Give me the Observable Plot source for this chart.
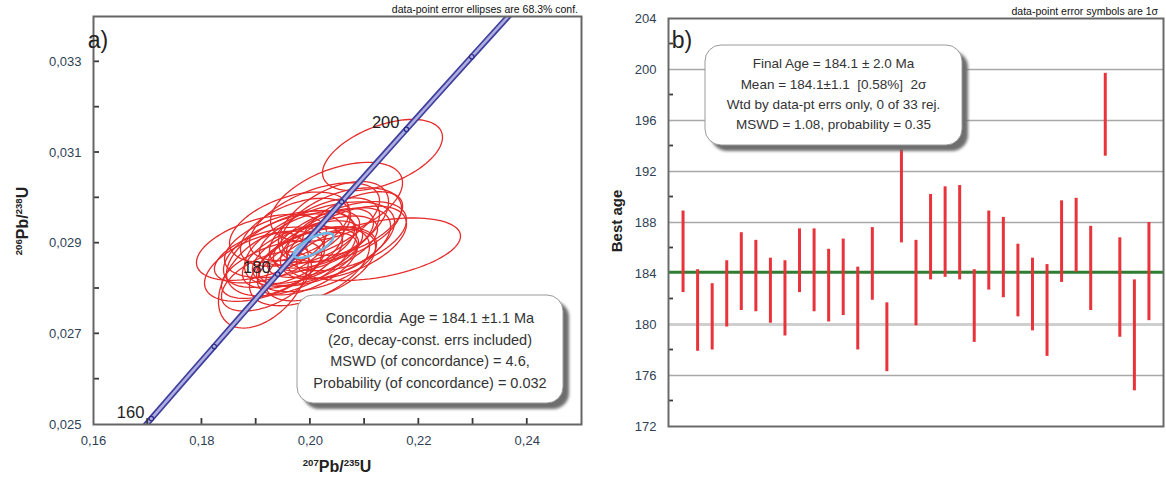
<!DOCTYPE html>
<html><head><meta charset="utf-8">
<script src="https://cdn.jsdelivr.net/npm/d3@7"></script>
<script src="https://cdn.jsdelivr.net/npm/@observablehq/plot@0.6"></script>
<style>
body{margin:0;background:#fff;}
#wrap{display:flex;width:1166px;height:482px;overflow:hidden;}
svg text{font-family:"Liberation Sans",Arial,sans-serif;}
</style></head><body><div id="wrap"></div>
<script>
// ---------- Panel a) data: concordia knots (age Ma, 207Pb/235U, 206Pb/238U) ----------
const concAge = [155,160,165,170,175,180,185,190,195,200,205,210,215,220];
const concX   = [0.16492,0.17067,0.17645,0.18226,0.18809,0.19396,0.19985,0.20577,0.21173,0.21771,0.22372,0.22976,0.23583,0.24193];
const concY   = [0.024335,0.025131,0.025927,0.026722,0.027518,0.028317,0.029114,0.029912,0.030712,0.031511,0.032312,0.033113,0.033914,0.034717];
const concTickAges = [160,170,180,190,200,210];
const concLabelAges = [160,180,200];

// data-point ratios (1 sigma) and error correlations
const r207 = [0.20260,0.19154,0.19283,0.19965,0.19615,0.20223,0.19246,0.20113,0.19984,0.20463,0.19947,0.19098,0.20187,0.20242,0.19191,0.20482,0.19504,0.20574,0.20076,0.20426,0.19947,0.19726,0.20666,0.21256,0.19670,0.19984,0.19615,0.20777,0.20666,0.21330,0.19652,0.19135,0.20168];
const s207 = [0.00670,0.00730,0.00609,0.00609,0.00791,0.00670,0.00670,0.00730,0.00609,0.00670,0.00670,0.00791,0.00670,0.00609,0.00548,0.00803,0.00730,0.00730,0.00791,0.00670,0.00609,0.00670,0.00730,0.00998,0.00609,0.00730,0.00730,0.00609,0.00730,0.00730,0.00791,0.00548,0.00913];
const r206 = [0.029225,0.028491,0.028411,0.028699,0.028978,0.028922,0.028739,0.028643,0.029114,0.028994,0.028802,0.028906,0.028515,0.029074,0.028156,0.029912,0.028834,0.029409,0.029473,0.029465,0.028547,0.029241,0.029154,0.028866,0.028691,0.028491,0.029353,0.029433,0.029018,0.030943,0.028778,0.028180,0.028978];
const s206 = [0.000511,0.000511,0.000415,0.000415,0.000487,0.000447,0.000407,0.000471,0.000399,0.000519,0.000455,0.000479,0.000519,0.000455,0.000431,0.000575,0.000535,0.000535,0.000567,0.000591,0.000455,0.000495,0.000503,0.000455,0.000455,0.000575,0.000511,0.000463,0.000527,0.000519,0.000622,0.000694,0.000615];
const rho  = [0.52,0.48,0.55,0.50,0.45,0.58,0.50,0.47,0.53,0.49,0.55,0.46,0.51,0.57,0.50,0.48,0.52,0.45,0.54,0.50,0.56,0.49,0.47,0.42,0.53,0.50,0.46,0.55,0.51,0.50,0.48,0.44,0.52];
// concordia-age ellipse
const meanEll = {x: 0.2006, sx: 0.00240, y: 0.028949, sy: 0.000180, rho: 0.72};
const confK = 1.516; // 68.3% 2-D confidence scaling

const xTickVals = [0.16,0.18,0.20,0.22,0.24];
const yTickVals = [0.025,0.027,0.029,0.031,0.033];
const xMinor = [0.17,0.18,0.19,0.20,0.21,0.22,0.23,0.24];
const yMinor = [0.026,0.027,0.028,0.029,0.030,0.031,0.032,0.033];
const boxA = ["Concordia  Age = 184.1 \u00b11.1 Ma","(2\u03c3, decay-const. errs included)","MSWD (of concordance) = 4.6,","Probability (of concordance) = 0.032"];
const noteA = "data-point error ellipses are 68.3% conf.";

// ---------- Panel b) data: best ages, 1 sigma ----------
const ageLo = [182.5,177.9,178.0,179.8,181.1,181.0,180.1,179.1,182.5,181.0,180.2,180.7,178.0,181.9,176.3,186.4,179.9,183.5,183.7,183.5,178.6,182.7,182.1,180.6,179.5,177.5,183.3,184.1,181.1,193.2,179.0,174.8,180.3];
const ageHi = [188.9,184.3,183.2,185.0,187.2,186.6,185.2,185.0,187.5,187.5,185.9,186.7,184.5,187.6,181.7,193.7,186.6,190.2,190.8,190.9,184.3,188.9,188.4,186.3,185.2,184.7,189.7,189.9,187.7,199.7,186.8,183.5,188.0];
const meanAge = 184.1;
const ageTicks = [172,176,180,184,188,192,196,200,204];
const ageMinor = [174,178,182,186,190,194,198,202];
const gridAges = [176,188,192,196,200];
const boxB = ["Final Age = 184.1 \u00b1 2.0 Ma","Mean = 184.1\u00b11.1  [0.58%]  2\u03c3","Wtd by data-pt errs only, 0 of 33 rej.","MSWD = 1.08, probability = 0.35"];
const noteB = "data-point error symbols are 1\u03c3";

const FONT = '"Liberation Sans", Arial, sans-serif';
const TICKCOL = "#2f3f55";

// ---------- build ellipse outlines ----------
function ellipse(id, cx, sx, cy, sy, r, n = 90) {
  const pts = [];
  const q = Math.sqrt(1 - r * r);
  for (let j = 0; j <= n; j++) {
    const t = 2 * Math.PI * j / n;
    pts.push({id, x: cx + confK * sx * Math.cos(t), y: cy + confK * sy * (r * Math.cos(t) + q * Math.sin(t))});
  }
  return pts;
}
const ellPts = r207.flatMap((v, i) => ellipse(i, v, s207[i], r206[i], s206[i], rho[i]));
const meanPts = ellipse("m", meanEll.x, meanEll.sx, meanEll.y, meanEll.sy, meanEll.rho);
const conc = concAge.map((a, i) => ({age: a, x: concX[i], y: concY[i]}));
const concTicks = conc.filter(d => concTickAges.includes(d.age));
const concLabels = conc.filter(d => concLabelAges.includes(d.age));

// inward tick marks drawn as a render mark using the plot's own scales
function innerTicks(values, dim, len) {
  return (index, scales, channels, dims) => {
    const g = d3.create("svg:g").attr("stroke", "#3a3a3a").attr("stroke-width", 1.8);
    values.forEach(v => {
      if (dim === "x") {
        const px = scales.x(v), y0 = dims.height - dims.marginBottom;
        g.append("line").attr("x1", px).attr("x2", px).attr("y1", y0).attr("y2", y0 - len);
      } else {
        const py = scales.y(v), x0 = dims.marginLeft;
        g.append("line").attr("x1", x0).attr("x2", x0 + len).attr("y1", py).attr("y2", py);
      }
    });
    return g.node();
  };
}

const left = Plot.plot({
  width: 590, height: 482,
  marginLeft: 93, marginRight: 9, marginTop: 16, marginBottom: 58,
  style: {fontFamily: FONT, fontSize: "13px", background: "white", overflow: "visible"},
  x: {domain: [0.16, 0.25]},
  y: {domain: [0.025, 0.034]},
  marks: [
    Plot.line(ellPts, {x: "x", y: "y", z: "id", stroke: "#e62b2b", strokeWidth: 1.3}),
    Plot.line(conc, {x: "x", y: "y", stroke: "#3f3f9e", strokeWidth: 6, clip: true}),
    Plot.line(conc, {x: "x", y: "y", stroke: "#aeaee0", strokeWidth: 2.6, clip: true}),
    Plot.line(meanPts, {x: "x", y: "y", stroke: "#6cb8e6", strokeWidth: 2.6}),
    Plot.dot(concTicks, {x: "x", y: "y", r: 2.2, stroke: "#2c2c88", strokeWidth: 1.2, fill: "#aeaee0", clip: true}),
    Plot.text(concLabels, {x: "x", y: "y", text: d => String(d.age), textAnchor: "end", lineAnchor: "bottom", dx: -7, dy: -1, fontSize: 16.5, fill: "#222"}),
    Plot.axisX({ticks: xTickVals, tickSize: 0, tickPadding: 11, tickFormat: d => d.toFixed(2).replace(".", ","), label: null, fill: TICKCOL, fontSize: 13}),
    Plot.axisY({ticks: yTickVals, tickSize: 0, tickPadding: 12, tickFormat: d => d.toFixed(3).replace(".", ","), label: null, fill: TICKCOL, fontSize: 13}),
    innerTicks(xMinor, "x", 6),
    innerTicks(yMinor, "y", 6),
    Plot.frame({stroke: "#666", strokeWidth: 2})
  ]
});

const idx = d3.range(1, ageLo.length + 1);
const right = Plot.plot({
  width: 576, height: 482,
  marginLeft: 78, marginRight: 3, marginTop: 18, marginBottom: 56,
  style: {fontFamily: FONT, fontSize: "13px", background: "white", overflow: "visible"},
  x: {domain: [0, 34], axis: null},
  y: {domain: [172, 204]},
  marks: [
    Plot.ruleY(gridAges, {stroke: "#a8a8a8", strokeWidth: 1.5}),
    Plot.ruleY([180], {stroke: "#cfcfcf", strokeWidth: 3}),
    Plot.ruleY([meanAge], {stroke: "#2e7d32", strokeWidth: 3}),
    Plot.ruleX(idx, {x: d => d, y1: d => ageLo[d - 1], y2: d => ageHi[d - 1], stroke: "#e8333a", strokeWidth: 3}),
    Plot.axisY({ticks: ageTicks, tickSize: 0, tickPadding: 12, label: null, fill: TICKCOL, fontSize: 13}),
    innerTicks(ageMinor, "y", 5),
    Plot.frame({stroke: "#6a6a6a", strokeWidth: 2})
  ]
});

const wrap = document.getElementById("wrap");
wrap.appendChild(left);
wrap.appendChild(right);

function addFilter(svgSel, id) {
  const f = svgSel.append("defs").append("filter").attr("id", id).attr("x", "-10%").attr("y", "-10%").attr("width", "130%").attr("height", "140%");
  f.append("feGaussianBlur").attr("stdDeviation", 1.6);
}

function box(svgSel, x, y, w, h, lines, cx, baselines, fs, fid) {
  const g = svgSel.append("g");
  g.append("rect").attr("x", x + 6).attr("y", y + 6).attr("width", w).attr("height", h).attr("rx", 16)
    .attr("fill", "#6e6e6e").attr("filter", `url(#${fid})`);
  g.append("rect").attr("x", x).attr("y", y).attr("width", w).attr("height", h).attr("rx", 16)
    .attr("fill", "#fff").attr("stroke", "#9a9a9a").attr("stroke-width", 1);
  lines.forEach((t, i) => {
    g.append("text").attr("x", cx).attr("y", baselines[i]).attr("text-anchor", "middle")
      .style("white-space", "pre").attr("font-size", fs).attr("fill", "#333").text(t);
  });
}

function supText(svgSel, x, y, parts, fs, rot) {
  const t = svgSel.append("text").attr("text-anchor", "middle").attr("font-weight", "bold").attr("fill", "#222")
    .attr("transform", `translate(${x},${y}) rotate(${rot})`);
  let up = false;
  parts.forEach(([s, sup]) => {
    const ts = t.append("tspan").text(s);
    if (sup && !up) { ts.attr("dy", -fs * 0.38).attr("font-size", fs * 0.6); up = true; }
    else if (sup) { ts.attr("font-size", fs * 0.6); }
    else if (up) { ts.attr("dy", fs * 0.38).attr("font-size", fs); up = false; }
    else ts.attr("font-size", fs);
  });
}

// ----- left overlays -----
{
  const s = d3.select(left);
  addFilter(s, "shA");
  box(s, 297, 295, 266, 108, boxA, 430, [323, 344.5, 366, 387.5], 14.5, "shA");
  s.append("text").attr("x", 98).attr("y", 48).attr("font-size", 23).attr("fill", "#222").text("a)");
  s.append("text").attr("x", 578).attr("y", 12.5).attr("text-anchor", "end").attr("font-size", 10.5).attr("fill", "#111").text(noteA);
  supText(s, 337, 472, [["207", true], ["Pb/", false], ["235", true], ["U", false]], 16, 0);
  supText(s, 28, 221, [["206", true], ["Pb/", false], ["238", true], ["U", false]], 16, -90);
}

// ----- right overlays -----
{
  const s = d3.select(right);
  addFilter(s, "shB");
  box(s, 115, 45, 257, 100, boxB, 243.5, [68, 88.5, 108.5, 129], 13.5, "shB");
  s.append("text").attr("x", 92).attr("y", 48).attr("font-size", 23).attr("fill", "#222").text("b)");
  s.append("text").attr("x", 568).attr("y", 14.5).attr("text-anchor", "end").attr("font-size", 10.5).attr("fill", "#111").text(noteB);
  s.append("text").attr("transform", "translate(32,221) rotate(-90)").attr("text-anchor", "middle")
    .attr("font-weight", "bold").attr("font-size", 15).attr("fill", "#222").text("Best age");
}
</script></body></html>
